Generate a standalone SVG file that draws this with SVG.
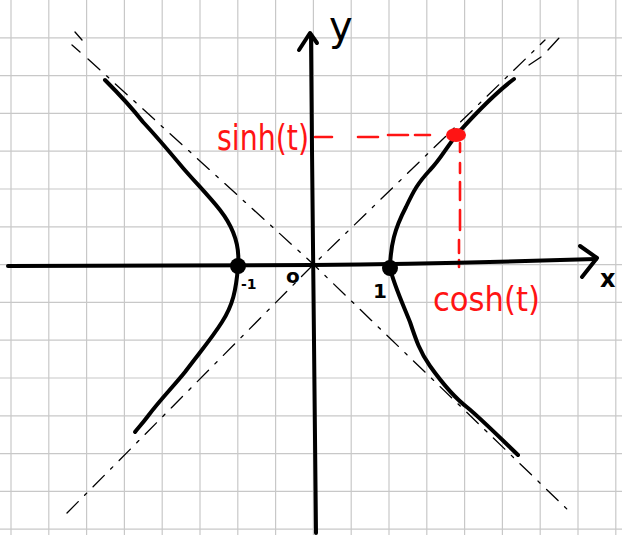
<svg xmlns="http://www.w3.org/2000/svg" width="622" height="535" viewBox="0 0 622 535">
<defs>
<style>
.grid line{stroke:#c8c8c8;stroke-width:1.2}
.ink{fill:none;stroke:#000;stroke-width:4;stroke-linecap:round;stroke-linejoin:round}
.asym{fill:none;stroke:#000;stroke-width:1.3;stroke-linecap:round;stroke-dasharray:16 9 3 9}
.red{fill:none;stroke:#ff1414;stroke-width:2.6;stroke-linecap:round}
.lbl{font-family:"DejaVu Sans",sans-serif;fill:#000}
.rlbl{font-family:"DejaVu Sans",sans-serif;fill:#ff1414}
</style>
</defs>
<rect width="622" height="535" fill="#fff"/>
<g id="grid" class="grid">
<line x1="11" y1="0" x2="11" y2="535"/><line x1="48.8" y1="0" x2="48.8" y2="535"/><line x1="86.6" y1="0" x2="86.6" y2="535"/><line x1="124.4" y1="0" x2="124.4" y2="535"/><line x1="162.2" y1="0" x2="162.2" y2="535"/><line x1="200" y1="0" x2="200" y2="535"/><line x1="237.8" y1="0" x2="237.8" y2="535"/><line x1="275.6" y1="0" x2="275.6" y2="535"/><line x1="313.4" y1="0" x2="313.4" y2="535"/><line x1="351.2" y1="0" x2="351.2" y2="535"/><line x1="389" y1="0" x2="389" y2="535"/><line x1="426.8" y1="0" x2="426.8" y2="535"/><line x1="464.6" y1="0" x2="464.6" y2="535"/><line x1="502.4" y1="0" x2="502.4" y2="535"/><line x1="540.2" y1="0" x2="540.2" y2="535"/><line x1="578" y1="0" x2="578" y2="535"/><line x1="615.8" y1="0" x2="615.8" y2="535"/>
<line x1="0" y1="37.8" x2="622" y2="37.8"/><line x1="0" y1="75.6" x2="622" y2="75.6"/><line x1="0" y1="113.4" x2="622" y2="113.4"/><line x1="0" y1="151.2" x2="622" y2="151.2"/><line x1="0" y1="189" x2="622" y2="189"/><line x1="0" y1="226.8" x2="622" y2="226.8"/><line x1="0" y1="264.6" x2="622" y2="264.6"/><line x1="0" y1="302.4" x2="622" y2="302.4"/><line x1="0" y1="340.2" x2="622" y2="340.2"/><line x1="0" y1="378" x2="622" y2="378"/><line x1="0" y1="415.8" x2="622" y2="415.8"/><line x1="0" y1="453.6" x2="622" y2="453.6"/><line x1="0" y1="491.4" x2="622" y2="491.4"/><line x1="0" y1="529.2" x2="622" y2="529.2"/>
</g>
<g id="asymptotes">
<path class="asym" d="M75,32 L82,40 M72,45 L80,52 M88,59 L312,263 L570,512"/>
<path class="asym" d="M67,513 L312,266 L545,40 M529,65 L541,57 M548,50 L559,38"/>
</g>
<g id="red-guides">
<path class="red" d="M315,137 L332,137 M358,137 L378,137 M388,135 L408,135 M415,135 L430,135"/>
<path class="red" d="M460,143 L460,152 M460,163 L460,173 M460,182 L460,200 M460,210 L460,230 M459,240 L459,253 M459,260 L459,267"/>
</g>
<g id="axes">
<path class="ink" d="M8,266 C100,266 200,265 313,265 C420,264 500,262 596,259"/>
<path class="ink" d="M580,246 L597,258 L582,277"/>
<path class="ink" d="M316,533 C314,420 313,300 312,150 L311,36"/>
<path class="ink" d="M299,50 L310,33 L317,43"/>
</g>
<g id="branch-right">
<path class="ink" d="M390,266 C391,245 394,230 406,207 C414,190 418,183 430,170 C440,160 446,148 458,133 C470,120 490,97 514,79"/>
<path class="ink" d="M390,268 C394,285 402,302 410,322 C416,340 420,352 430,366 C440,380 452,396 468,408 C480,418 490,428 518,455"/>
<circle cx="390" cy="268" r="8" fill="#000"/>
</g>
<g id="branch-left">
<path class="ink" d="M238,265 C240,245 234,228 220,210 C208,195 196,183 183,168 C168,150 158,138 143,122 C132,108 120,95 105,80"/>
<path class="ink" d="M238,267 C236,290 233,305 222,322 C212,338 200,352 185,372 C172,388 160,400 148,416 C142,424 138,428 135,432"/>
<circle cx="238" cy="266" r="8" fill="#000"/>
</g>
<g id="point">
<ellipse cx="456" cy="135" rx="10" ry="7" fill="#ff1414"/>
</g>
<g id="labels">
<text class="lbl" x="329" y="40" font-size="40">y</text>
<text class="lbl" x="600" y="287" font-size="24" font-weight="bold">x</text>
<text class="lbl" x="241" y="289" font-size="14" font-weight="bold">-1</text>
<text class="lbl" x="286" y="283" font-size="20" font-weight="bold">o</text>
<text class="lbl" x="373" y="298" font-size="20" font-weight="bold">1</text>
<text class="rlbl" x="217" y="150" font-size="36" textLength="92" lengthAdjust="spacingAndGlyphs">sinh(t)</text>
<text class="rlbl" x="433" y="311" font-size="34" textLength="107" lengthAdjust="spacingAndGlyphs">cosh(t)</text>
</g>
</svg>
